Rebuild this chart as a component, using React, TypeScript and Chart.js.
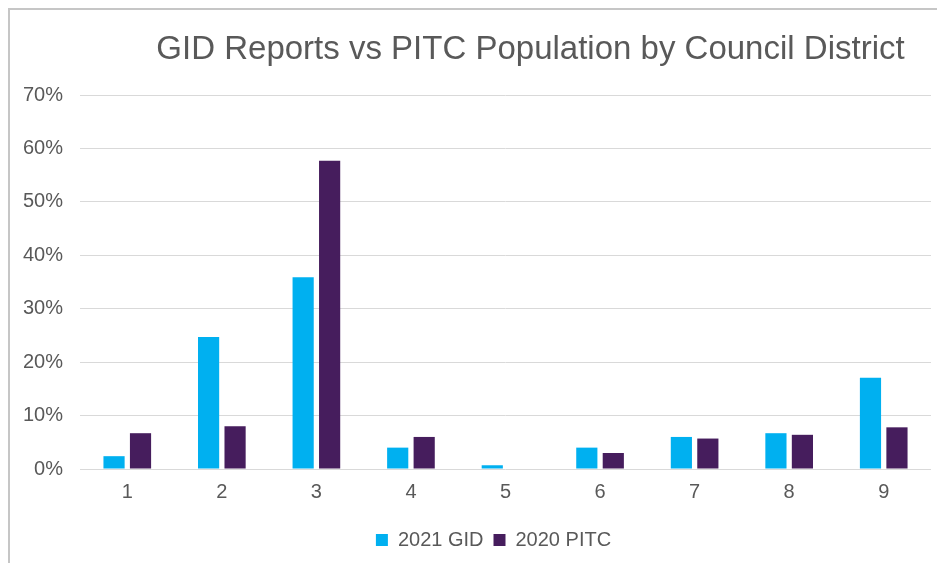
import React, { useEffect, useRef } from "react";
import { Chart, registerables } from "chart.js";

Chart.register(...registerables);

const TITLE = "GID Reports vs PITC Population by Council District";
const districts = ["1", "2", "3", "4", "5", "6", "7", "8", "9"];
const gid2021 = [2.4, 24.7, 35.9, 4.0, 0.7, 4.0, 6.0, 6.7, 17.1];
const pitc2020 = [6.7, 8.0, 57.7, 6.0, 0, 3.0, 5.7, 6.4, 7.8];
const seriesNames = ["2021 GID", "2020 PITC"];
const yMax = 70;
const yStep = 10;

const FONT = "'Liberation Sans', Arial, sans-serif";
const TEXT = "#595959";

const titlePlugin = {
  id: "offsetTitle",
  afterLayout(chart: any) {
    if (chart.legend) {
      chart.legend.left -= 12;
      chart.legend.right -= 12;
    }
  },
  afterDraw(chart: any) {
    const { ctx, chartArea } = chart;
    ctx.save();
    ctx.font = `33px ${FONT}`;
    ctx.fillStyle = TEXT;
    ctx.textAlign = "center";
    ctx.textBaseline = "middle";
    const cx = (chartArea.left + chartArea.right) / 2 + 25;
    ctx.fillText(TITLE, cx, 40);
    ctx.restore();
  },
};

export default function App() {
  const ref = useRef<HTMLCanvasElement | null>(null);
  useEffect(() => {
    document.body.style.overflow = "hidden";
    if (!ref.current) return;
    const chart = new Chart(ref.current, {
      type: "bar",
      data: {
        labels: districts,
        datasets: [
          {
            label: seriesNames[0],
            data: gid2021,
            backgroundColor: "#00B0F0",
            categoryPercentage: 0.56,
            barPercentage: 0.8,
          },
          {
            label: seriesNames[1],
            data: pitc2020,
            backgroundColor: "#461D5D",
            categoryPercentage: 0.56,
            barPercentage: 0.8,
          },
        ],
      },
      options: {
        animation: false,
        responsive: true,
        maintainAspectRatio: false,
        layout: { padding: { top: 85, right: 14, bottom: 3, left: 0 } },
        plugins: {
          title: { display: false },
          tooltip: { enabled: false },
          legend: {
            position: "bottom",
            fullSize: false,
            labels: {
              boxWidth: 12,
              boxHeight: 12,
              padding: 10,
              color: TEXT,
              font: { family: FONT, size: 20 },
            },
          },
        },
        scales: {
          x: {
            grid: { display: false, drawTicks: false },
            border: { display: false },
            ticks: {
              color: TEXT,
              padding: 11,
              font: { family: FONT, size: 20 },
            },
            afterFit: (axis: any) => {
              axis.height = 51;
            },
          },
          y: {
            min: 0,
            max: yMax,
            grid: { color: "#d9d9d9", lineWidth: 1, drawTicks: false },
            border: { display: false },
            ticks: {
              stepSize: yStep,
              color: TEXT,
              padding: 17,
              font: { family: FONT, size: 20 },
              callback: (v: any) => `${v}%`,
            },
            afterFit: (axis: any) => {
              axis.width = 70;
            },
          },
        },
      },
      plugins: [titlePlugin],
    });
    return () => chart.destroy();
  }, []);

  return (
    <div
      style={{
        width: 937,
        height: 555,
        boxSizing: "border-box",
        borderTop: "2px solid #c6c6c6",
        borderLeft: "2px solid #c6c6c6",
      }}
    >
      <div style={{ position: "relative", width: 935, height: 553 }}>
        <canvas ref={ref} />
      </div>
    </div>
  );
}
